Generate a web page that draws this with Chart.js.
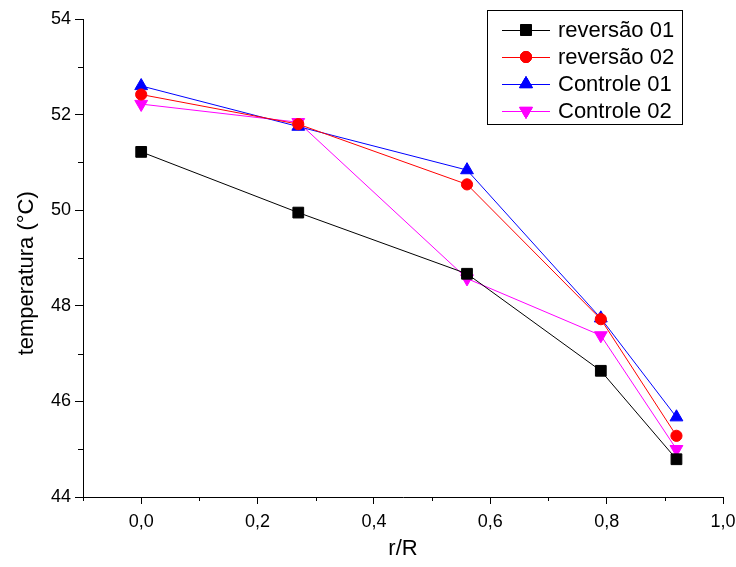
<!DOCTYPE html>
<html>
<head>
<meta charset="utf-8">
<script src="https://cdn.jsdelivr.net/npm/chart.js@4/dist/chart.umd.min.js"></script>
<style>
  html, body { margin: 0; padding: 0; background: #fff; }
  #wrap { width: 736px; height: 567px; position: relative; }
</style>
</head>
<body>
<div id="wrap"><canvas id="c" width="736" height="567"></canvas></div>
<script>
const rR = [0, 0.27, 0.56, 0.79, 0.92];
const reversao01 = [51.22, 49.95, 48.67, 46.64, 44.79];
const reversao02 = [52.42, 51.80, 50.54, 47.72, 45.28];
const controle01 = [52.60, 51.75, 50.84, 47.74, 45.67];
const controle02 = [52.22, 51.84, 48.57, 47.38, 45.00];
const seriesLabels = ['reversão 01', 'reversão 02', 'Controle 01', 'Controle 02'];
const xTicks = [0.0, 0.2, 0.4, 0.6, 0.8, 1.0];
const yTicks = [44, 46, 48, 50, 52, 54];

const FONT = "'Liberation Sans', Arial, sans-serif";
const pts = (ys) => rR.map((x, i) => ({x: x, y: ys[i]}));

function mk(label, ys, color, style, radius, rotation) {
  return {
    label: label, data: pts(ys),
    borderColor: color, backgroundColor: color,
    borderWidth: 1, pointStyle: style, pointRadius: radius,
    pointHoverRadius: radius, pointRotation: rotation || 0,
    pointBorderWidth: 1, pointBorderColor: color, pointBackgroundColor: color,
    tension: 0, fill: false
  };
}

const isMajorX = v => xTicks.some(t => Math.abs(t - v) < 1e-6);
const isMajorY = v => yTicks.some(t => Math.abs(t - v) < 1e-6);

const minorTicks = {
  id: 'minorTicks',
  afterDraw(chart) {
    const ctx = chart.ctx;
    const xs = chart.scales.x, ys = chart.scales.y;
    ctx.save();
    ctx.strokeStyle = '#000';
    ctx.lineWidth = 1;
    ctx.beginPath();
    xs.ticks.forEach(t => {
      if (!isMajorX(t.value)) {
        const px = Math.round(xs.getPixelForValue(t.value)) + 0.5;
        ctx.moveTo(px, xs.top); ctx.lineTo(px, xs.top + 4);
      }
    });
    ys.ticks.forEach(t => {
      if (!isMajorY(t.value)) {
        const py = Math.round(ys.getPixelForValue(t.value)) + 0.5;
        ctx.moveTo(ys.right, py); ctx.lineTo(ys.right - 5, py);
      }
    });
    ctx.stroke();
    ctx.restore();
  }
};

const boxLegend = {
  id: 'boxLegend',
  afterDraw(chart) {
    const ctx = chart.ctx;
    const bx = 487, by = 10, bw = 195, bh = 114;
    ctx.save();
    ctx.strokeStyle = '#000';
    ctx.lineWidth = 1;
    ctx.strokeRect(bx + 0.5, by + 0.5, bw, bh);
    ctx.font = '22px ' + FONT;
    ctx.textBaseline = 'middle';
    ctx.textAlign = 'left';
    chart.data.datasets.forEach((ds, i) => {
      const y = 30 + i * 27;
      ctx.strokeStyle = ds.borderColor;
      ctx.lineWidth = 1;
      ctx.beginPath();
      ctx.moveTo(502, y + 0.5); ctx.lineTo(550, y + 0.5);
      ctx.stroke();
      Chart.helpers.drawPoint(ctx, {
        pointStyle: ds.pointStyle, radius: ds.pointRadius,
        rotation: ds.pointRotation, borderWidth: 1
      }, 526, y);
      ctx.fillStyle = ds.backgroundColor;
      ctx.strokeStyle = ds.borderColor;
      ctx.fill(); ctx.stroke();
      ctx.fillStyle = '#000';
      ctx.fillText(ds.label, 558, y + 1);
    });
    ctx.restore();
  }
};

new Chart(document.getElementById('c'), {
  type: 'line',
  data: {
    datasets: [
      mk(seriesLabels[0], reversao01, '#000000', 'rect', 7.6, 0),
      mk(seriesLabels[1], reversao02, '#ff0000', 'circle', 5.6, 0),
      mk(seriesLabels[2], controle01, '#0000ff', 'triangle', 7.4, 0),
      mk(seriesLabels[3], controle02, '#ff00ff', 'triangle', 7.4, 180)
    ]
  },
  options: {
    responsive: false,
    animation: false,
    devicePixelRatio: 1,
    layout: { padding: { left: 0, right: 13, top: 19, bottom: 0 } },
    plugins: { legend: { display: false }, tooltip: { enabled: false } },
    scales: {
      x: {
        type: 'linear', min: -0.1, max: 1.0,
        afterFit: s => { s.height = 70; s.paddingLeft = 0; s.paddingRight = 0; },
        ticks: {
          stepSize: 0.1, autoSkip: false, maxRotation: 0, padding: 7,
          color: '#000', font: { family: FONT, size: 18 },
          callback: v => isMajorX(v) ? v.toFixed(1).replace('.', ',') : ''
        },
        grid: {
          drawOnChartArea: false, drawTicks: true, tickLength: 7,
          tickColor: c => isMajorX(c.tick.value) ? '#000' : 'rgba(0,0,0,0)'
        },
        border: { display: true, color: '#000', width: 1 },
        title: { display: true, text: 'r/R', color: '#000',
                 font: { family: FONT, size: 22 }, padding: { top: 0, bottom: 5 } }
      },
      y: {
        type: 'linear', min: 44, max: 54,
        afterFit: s => { s.width = 83; s.paddingTop = 0; s.paddingBottom = 0; },
        ticks: {
          stepSize: 1, autoSkip: false, padding: 4,
          color: '#000', font: { family: FONT, size: 18 },
          callback: v => isMajorY(v) ? String(v) : ''
        },
        grid: {
          drawOnChartArea: false, drawTicks: true, tickLength: 8,
          tickColor: c => isMajorY(c.tick.value) ? '#000' : 'rgba(0,0,0,0)'
        },
        border: { display: true, color: '#000', width: 1 },
        title: { display: true, text: 'temperatura (°C)     ', color: '#000',
                 font: { family: FONT, size: 22 }, padding: { top: 14, bottom: 0 } }
      }
    }
  },
  plugins: [minorTicks, boxLegend]
});
</script>
</body>
</html>
